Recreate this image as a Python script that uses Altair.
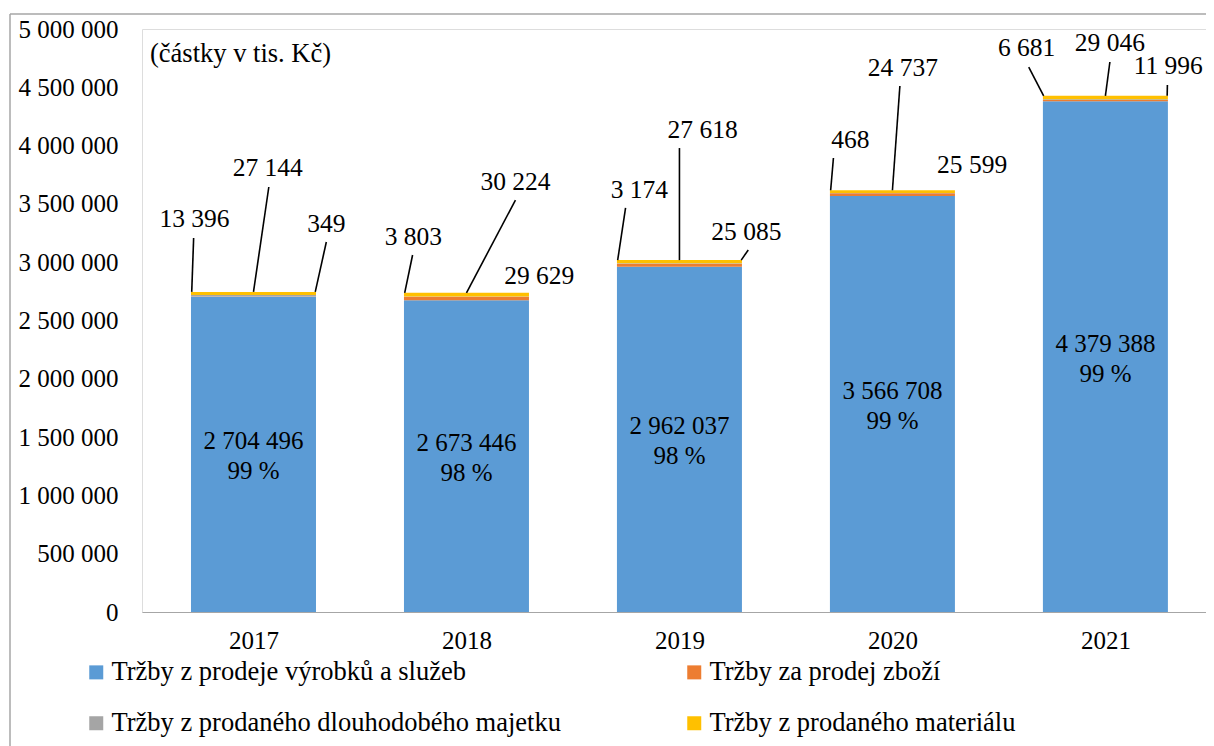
import altair as alt
import pandas as pd

# ---- data ----
years = [2017, 2018, 2019, 2020, 2021]
series = [
    "Tržby z prodeje výrobků a služeb",
    "Tržby za prodej zboží",
    "Tržby z prodaného dlouhodobého majetku",
    "Tržby z prodaného materiálu",
]
colors = ["#5B9BD5", "#ED7D31", "#A5A5A5", "#FFC000"]
vyrobky = [2704496, 2673446, 2962037, 3566708, 4379388]
zbozi = [349, 29629, 25085, 25599, 11996]
majetek = [13396, 3803, 3174, 468, 6681]
material = [27144, 30224, 27618, 24737, 29046]
podil = [99, 98, 98, 99, 99]
y_ticks = [0, 500000, 1000000, 1500000, 2000000, 2500000, 3000000, 3500000, 4000000, 4500000, 5000000]
note = "(částky v tis. Kč)"
# legend entries laid out in two columns, row by row
legend_order = [series[0], series[2], series[1], series[3]]

# ---- annotation layout (label placement, in axis units) ----
# per series: text x-offset (years), text y (value), leader-top x-offset, leader-top y (None = no leader)
lay_majetek = [(-0.277, 3370000, -0.281, 3207000), (-0.249, 3216000, -0.253, 3062000),
               (-0.188, 3619000, -0.253, 3465000), (-0.198, 4048000, -0.277, 3894000),
               (-0.370, 4837000, -0.360, 4674000)]
lay_material = [(0.067, 3808000, 0.072, 3645000), (0.230, 3688000, 0.230, 3533000),
                (0.109, 4134000, 0.000, 3979000), (0.049, 4665000, 0.035, 4511000),
                (0.021, 4880000, 0.021, 4717000)]
lay_zbozi = [(0.342, 3327000, 0.342, 3173000), (0.342, 2881000, None, None),
             (0.314, 3259000, 0.323, 3105000), (0.374, 3833000, None, None),
             (0.295, 4682000, 0.291, 4520000)]
HALF = 0.29  # half bar width in years


def fmt(v):
    return f"{v:,}".replace(",", " ")


vals = [vyrobky, zbozi, majetek, material]
rows = []
for si, s in enumerate(series):
    for yi, yr in enumerate(years):
        rows.append({"year": yr, "series": s, "idx": si, "value": vals[si][yi]})
bars_df = pd.DataFrame(rows)

totals = [sum(v[i] for v in vals) for i in range(len(years))]

inside_df = pd.DataFrame({
    "year": years,
    "mid": [v / 2 for v in vyrobky],
    "txt": [[fmt(v), f"{p} %"] for v, p in zip(vyrobky, podil)],
})

ann = []
lines = []
for data, lay, side in [(majetek, lay_majetek, -1), (material, lay_material, 0), (zbozi, lay_zbozi, 1)]:
    for i, yr in enumerate(years):
        tdx, ty, ldx, ly = lay[i]
        ann.append({"tx": yr + tdx, "ty": ty, "txt": fmt(data[i])})
        if ldx is not None:
            lines.append({"x1": yr + side * HALF, "y1": totals[i], "x2": yr + ldx, "y2": ly})
ann_df = pd.DataFrame(ann)
lines_df = pd.DataFrame(lines)

FONT = "Liberation Serif"
FS = 25
W, H = 1064, 583
PADL = 134
xscale = alt.Scale(domain=[2016.5, 2016.5 + W / 215], nice=False, zero=False)
yscale = alt.Scale(domain=[0, 5000000], nice=False)

x_axis = alt.Axis(values=years, format="d", title=None, grid=False, ticks=False,
                  domainColor="#A6A6A6", domainWidth=1.2, labelFontSize=FS, labelFont=FONT,
                  labelColor="black", labelPadding=16)
y_axis = alt.Axis(values=y_ticks, title=None, grid=False, ticks=False, domain=False,
                  labelFontSize=FS, labelFont=FONT, labelColor="black", labelPadding=24,
                  labelExpr="join(split(format(datum.value, ','), ','), ' ')")

bars = alt.Chart(bars_df).mark_bar(size=125).encode(
    x=alt.X("year:Q", scale=xscale, axis=x_axis),
    y=alt.Y("value:Q", scale=yscale, axis=y_axis, stack="zero"),
    color=alt.Color("series:N", scale=alt.Scale(domain=series, range=colors),
                    legend=alt.Legend(orient="none", legendX=-59, legendY=630, columns=2,
                                      values=legend_order,
                                      columnPadding=120, rowPadding=24, symbolType="square",
                                      symbolSize=196, symbolStrokeWidth=0, labelFontSize=26.5,
                                      labelFont=FONT, labelColor="black", labelOffset=2,
                                      labelLimit=0, title=None, padding=0)),
    order=alt.Order("idx:Q", sort="ascending"),
)

inside = alt.Chart(inside_df).mark_text(font=FONT, fontSize=FS, color="black",
                                         lineHeight=30, baseline="middle", dy=-13).encode(
    x=alt.X("year:Q", scale=xscale),
    y=alt.Y("mid:Q", scale=yscale),
    text="txt",
)

leaders = alt.Chart(lines_df).mark_rule(color="black", strokeWidth=1.6).encode(
    x=alt.X("x1:Q", scale=xscale),
    y=alt.Y("y1:Q", scale=yscale),
    x2="x2:Q",
    y2="y2:Q",
)

ann_text = alt.Chart(ann_df).mark_text(font=FONT, fontSize=25.5, color="black",
                                       baseline="middle").encode(
    x=alt.X("tx:Q", scale=xscale),
    y=alt.Y("ty:Q", scale=yscale),
    text="txt:N",
)

note_text = alt.Chart(pd.DataFrame({"t": [note]})).mark_text(
    font=FONT, fontSize=26.5, color="black", align="left", baseline="middle").encode(
    x=alt.value(8), y=alt.value(25), text="t:N")

frame_top = alt.Chart(pd.DataFrame({"a": [0]})).mark_rule(color="#A6A6A6", strokeWidth=1.5).encode(
    x=alt.value(2 - PADL), x2=alt.value(1075), y=alt.value(-15))
frame_left = alt.Chart(pd.DataFrame({"a": [0]})).mark_rule(color="#A6A6A6", strokeWidth=1.5).encode(
    x=alt.value(2 - PADL), y=alt.value(-15), y2=alt.value(720))

chart = alt.layer(frame_top, frame_left, bars, leaders, inside, ann_text, note_text).properties(
    width=W, height=H,
    autosize=alt.AutoSizeParams(type="none"),
    padding={"left": PADL, "top": 21, "right": 0, "bottom": 134},
).configure_view(stroke=None).configure(font=FONT)

chart.save("out.html", embed_options={"renderer": "svg", "actions": False})
